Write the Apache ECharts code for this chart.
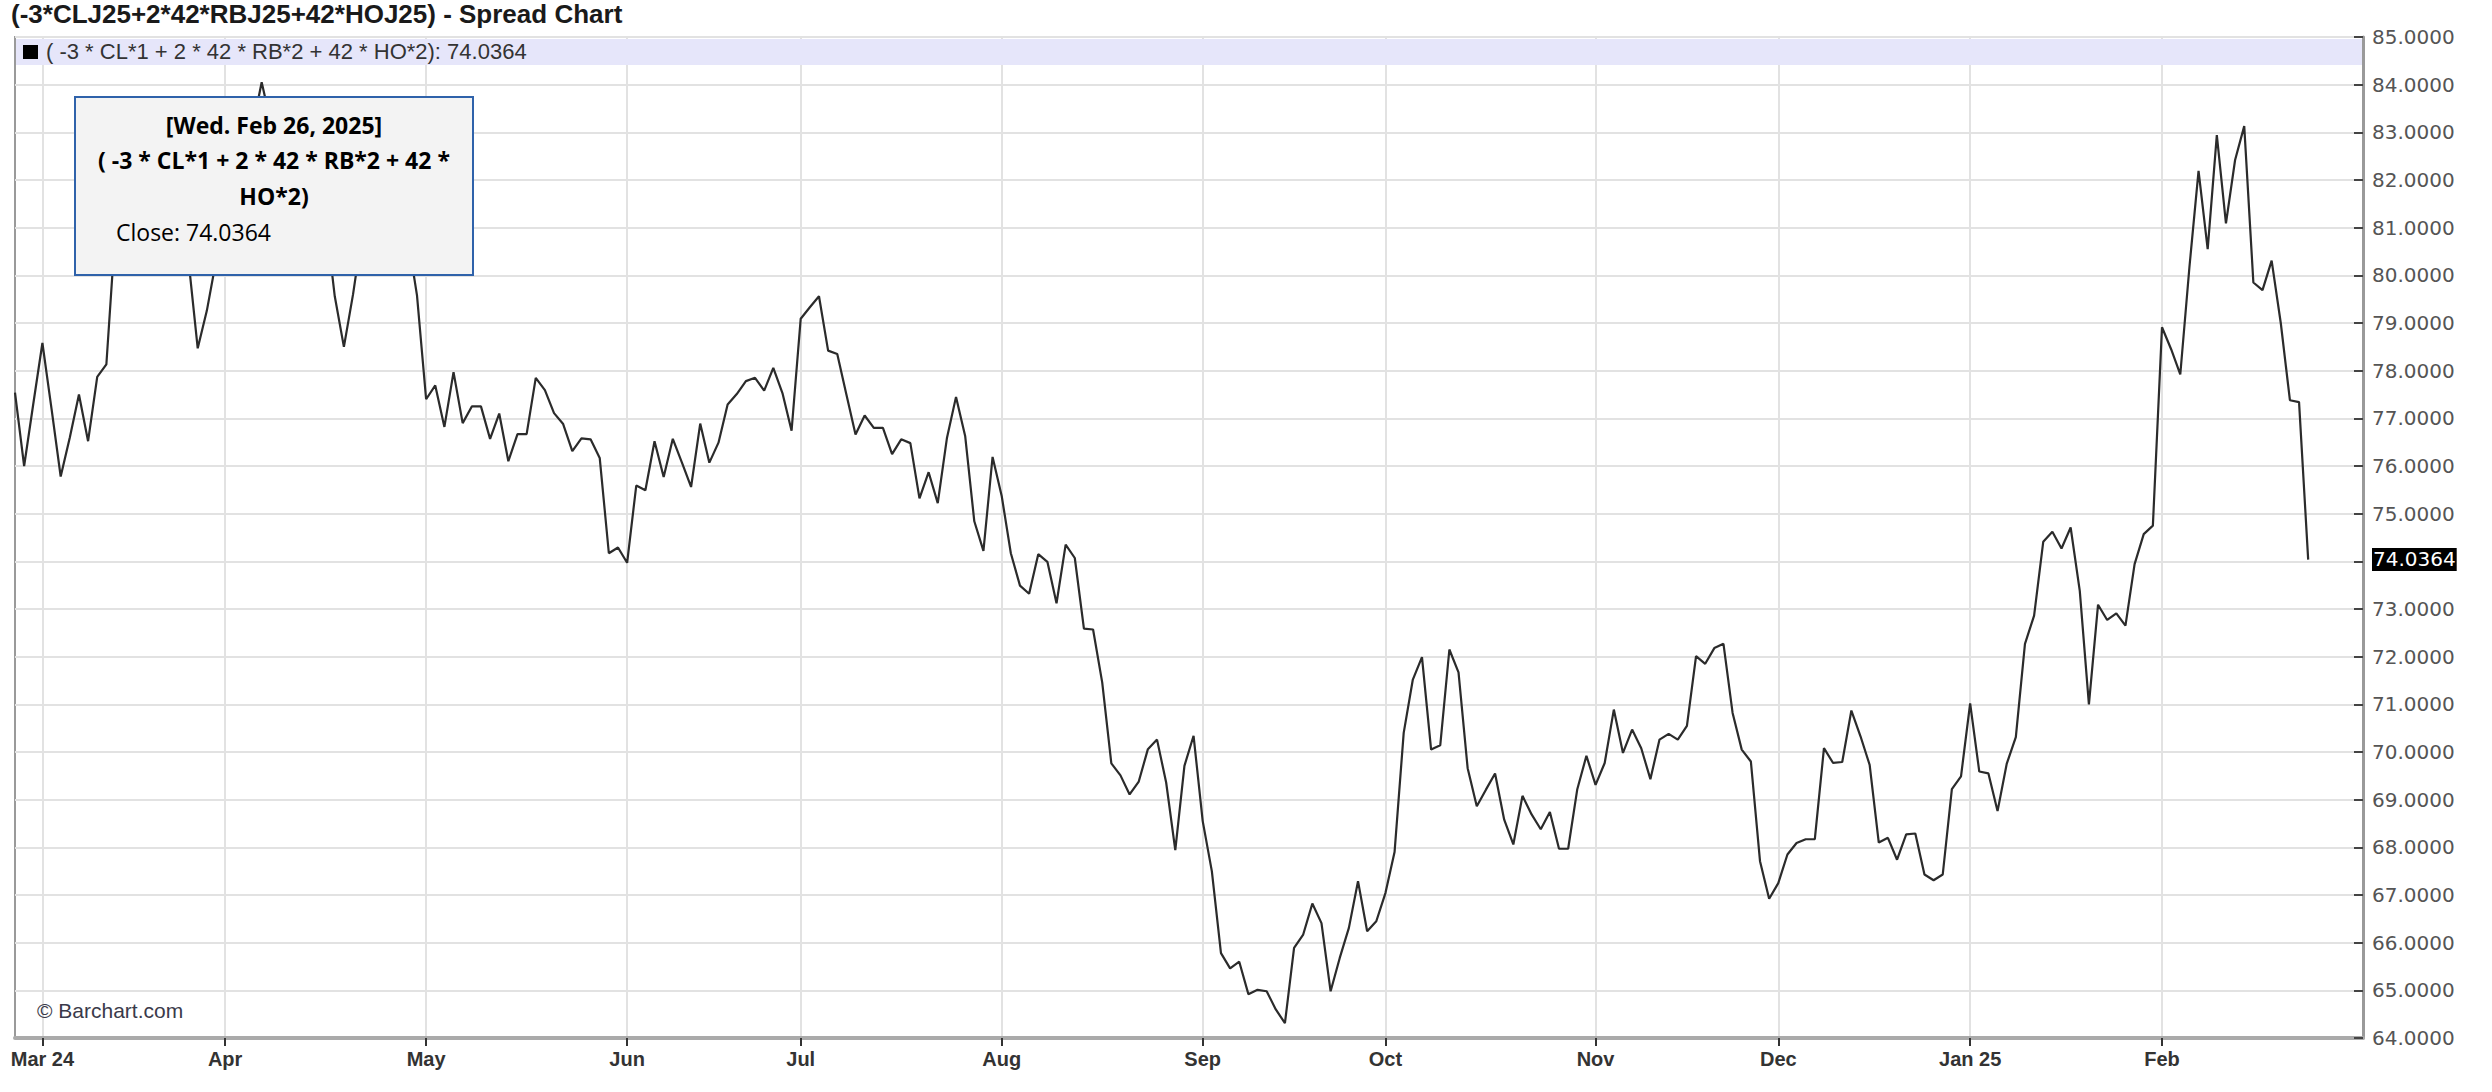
<!DOCTYPE html>
<html>
<head>
<meta charset="utf-8">
<style>
  html, body { margin: 0; padding: 0; background: #fff; }
  #chart { width: 2492px; height: 1092px; }
</style>
<script src="https://cdn.jsdelivr.net/npm/echarts@6/dist/echarts.min.js"></script>
</head>
<body>
<div id="chart"></div>
<script>
// ---------- DATA ----------
const chartTitle = '(-3*CLJ25+2*42*RBJ25+42*HOJ25) - Spread Chart';
const seriesName = '( -3 * CL*1 + 2 * 42 * RB*2 + 42 * HO*2)';

// trading-day calendar: first date, last axis date and exchange holidays (no bar)
const firstDate = '2024-02-27';
const lastAxisDate = '2025-03-06';
const holidays = ['2024-03-29','2024-05-27','2024-06-19','2024-07-04','2024-09-02',
                  '2024-11-28','2024-12-25','2025-01-01','2025-01-20','2025-02-17'];

// month tick positions and labels
const tickDates  = ['2024-03-01','2024-04-01','2024-05-01','2024-06-03','2024-07-01','2024-08-01',
                    '2024-09-03','2024-10-01','2024-11-01','2024-12-02','2025-01-02','2025-02-03'];
const tickLabels = ['Mar 24','Apr','May','Jun','Jul','Aug','Sep','Oct','Nov','Dec','Jan 25','Feb'];

// daily closes, Feb 27 2024 -> Feb 26 2025
const closes = [
  // Feb 2024
  77.54, 76.00, 77.30,
  // Mar 2024
  78.58, 77.20, 75.78, 76.60, 77.50, 76.52, 77.87, 78.13, 81.00, 81.90,
  81.50, 82.40, 83.00, 82.60, 83.30, 82.10, 80.30, 78.47, 79.26, 80.30,
  // Apr 2024
  81.40, 82.50, 82.00, 83.10, 84.05, 83.20, 82.60, 83.00, 82.20, 81.50,
  82.00, 81.20, 79.56, 78.50, 79.60, 80.90, 81.70, 81.20, 82.10, 81.50,
  80.80, 79.58,
  // May 2024
  77.40, 77.69, 76.82, 77.97, 76.90, 77.25, 77.25, 76.57, 77.10, 76.10,
  76.67, 76.67, 77.85, 77.59, 77.11, 76.88, 76.31, 76.58, 76.56, 76.17,
  74.17, 74.29,
  // Jun 2024
  73.97, 75.59, 75.49, 76.52, 75.77, 76.57, 76.07, 75.56, 76.89, 76.07,
  76.49, 77.29, 77.51, 77.78, 77.85, 77.58, 78.06, 77.53, 76.74,
  // Jul 2024
  79.09, 79.33, 79.56, 78.42, 78.35, 77.50, 76.66, 77.06, 76.80, 76.80,
  76.25, 76.56, 76.48, 75.32, 75.87, 75.22, 76.58, 77.45, 76.63, 74.84,
  74.22, 76.19,
  // Aug 2024
  75.37, 74.17, 73.49, 73.32, 74.15, 73.99, 73.12, 74.35, 74.07, 72.59,
  72.57, 71.46, 69.76, 69.51, 69.11, 69.38, 70.06, 70.26, 69.36, 67.94,
  69.71, 70.34,
  // Sep 2024
  68.55, 67.50, 65.78, 65.46, 65.60, 64.92, 65.01, 64.98, 64.60, 64.31,
  65.89, 66.17, 66.82, 66.41, 64.98, 65.68, 66.31, 67.29, 66.24, 66.45,
  // Oct 2024
  67.04, 67.90, 70.40, 71.52, 71.99, 70.05, 70.14, 72.15, 71.67, 69.66,
  68.86, 69.21, 69.55, 68.58, 68.06, 69.08, 68.69, 68.38, 68.74, 67.97,
  67.97, 69.22, 69.92,
  // Nov 2024
  69.31, 69.77, 70.89, 69.98, 70.47, 70.08, 69.43, 70.26, 70.38, 70.26,
  70.55, 72.01, 71.85, 72.18, 72.27, 70.82, 70.05, 69.80, 67.71, 66.92,
  // Dec 2024
  67.25, 67.85, 68.09, 68.17, 68.17, 70.08, 69.77, 69.79, 70.87, 70.33,
  69.73, 68.10, 68.20, 67.74, 68.27, 68.29, 67.43, 67.31, 67.43, 69.22,
  69.49,
  // Jan 2025
  71.02, 69.59, 69.55, 68.76, 69.75, 70.31, 72.27, 72.86, 74.41, 74.62,
  74.27, 74.71, 73.38, 71.00, 73.09, 72.77, 72.91, 72.65, 73.94, 74.57,
  74.75,
  // Feb 2025
  78.91, 78.45, 77.92, 80.17, 82.19, 80.55, 82.94, 81.09, 82.42, 83.13,
  79.85, 79.69, 80.31, 79.00, 77.38, 77.34, 74.0364
];

const tooltipDate = '[Wed. Feb 26, 2025]';

// ---------- BUILD CATEGORIES ----------
function buildDates(from, to, skip) {
  const out = [];
  const skipSet = new Set(skip);
  const d = new Date(from + 'T00:00:00Z');
  const end = new Date(to + 'T00:00:00Z');
  while (d <= end) {
    const wd = d.getUTCDay();
    const s = d.toISOString().slice(0, 10);
    if (wd !== 0 && wd !== 6 && !skipSet.has(s)) out.push(s);
    d.setUTCDate(d.getUTCDate() + 1);
  }
  return out;
}
const categories = buildDates(firstDate, lastAxisDate, holidays);
const tickSet = new Set(tickDates);
const labelOf = {};
tickDates.forEach((d, i) => { labelOf[d] = tickLabels[i]; });
const isTick = (idx, val) => tickSet.has(val);
const lastValue = closes[closes.length - 1];

// ---------- LAYOUT ----------
const G = { left: 15, right: 129, top: 37, bottom: 54 };
const plotRight = 2492 - G.right;
const TZ = 100;

const chart = echarts.init(document.getElementById('chart'), null, { renderer: 'svg' });

chart.setOption({
  animation: false,
  backgroundColor: '#ffffff',
  grid: {
    left: G.left, right: G.right, top: G.top, bottom: G.bottom,
    show: true, borderColor: '#9a9a9a', borderWidth: 2, backgroundColor: 'transparent'
  },
  xAxis: {
    type: 'category',
    data: categories,
    boundaryGap: false,
    axisLine: { show: true, lineStyle: { color: '#aaaaaa', width: 4 } },
    axisTick: { show: true, interval: isTick, length: 8, lineStyle: { color: '#333', width: 2 } },
    axisLabel: {
      show: true, interval: isTick, margin: 11,
      formatter: v => labelOf[v] || '',
      fontFamily: 'Liberation Sans, Arial, sans-serif', fontWeight: 'bold', fontSize: 20, color: '#333'
    },
    splitLine: { show: true, interval: isTick, lineStyle: { color: '#e2e2e2', width: 2 } }
  },
  yAxis: {
    type: 'value',
    position: 'right',
    min: 64, max: 85, interval: 1,
    axisLine: { show: true, lineStyle: { color: '#9a9a9a', width: 3 } },
    axisTick: { show: true, inside: true, length: 9, lineStyle: { color: '#444', width: 2 } },
    axisLabel: {
      margin: 9, formatter: v => v.toFixed(4),
      fontFamily: 'DejaVu Sans, sans-serif', fontSize: 20, color: '#555'
    },
    splitLine: { show: true, lineStyle: { color: '#e2e2e2', width: 2 } }
  },
  series: [{
    name: seriesName,
    type: 'line',
    data: closes,
    symbol: 'none',
    z: 5,
    lineStyle: { color: '#2b2b2b', width: 2.2 },
    markLine: {
      silent: true,
      symbol: ['none', 'none'],
      lineStyle: { color: 'transparent', width: 0 },
      data: [{ yAxis: lastValue }],
      label: {
        show: true, position: 'end', distance: 9,
        formatter: () => lastValue.toFixed(4),
        backgroundColor: '#000', color: '#fff', padding: [2, 1, 1, 1],
        fontFamily: 'DejaVu Sans, sans-serif', fontSize: 20
      }
    }
  }],
  graphic: [
    // title
    { type: 'text', left: 11, top: 1, z: TZ,
      style: { text: chartTitle, font: 'bold 26px "Liberation Sans", Arial, sans-serif', fill: '#1a1a1a' } },
    // legend band
    { type: 'rect', z: 1, shape: { x: G.left + 1, y: G.top + 2, width: plotRight - G.left - 2, height: 26 },
      style: { fill: '#e6e6fa' } },
    { type: 'rect', z: TZ, shape: { x: 23, y: 45, width: 15, height: 14 }, style: { fill: '#000' } },
    { type: 'text', left: 46, top: 40, z: TZ,
      style: { text: seriesName + ': ' + lastValue.toFixed(4),
               font: '22px "Liberation Sans", Arial, sans-serif', fill: '#333' } },
    // tooltip box
    { type: 'rect', z: TZ, shape: { x: 75, y: 97, width: 398, height: 178 },
      style: { fill: '#f3f3f3', stroke: '#2f62aa', lineWidth: 2 } },
    { type: 'text', z: TZ + 1, style: { x: 274, y: 125, text: tooltipDate, textAlign: 'center', textVerticalAlign: 'middle',
        font: 'bold 23px "Open Sans", sans-serif', fill: '#000' } },
    { type: 'text', z: TZ + 1, style: { x: 274, y: 160, text: '( -3 * CL*1 + 2 * 42 * RB*2 + 42 *', textAlign: 'center', textVerticalAlign: 'middle',
        font: 'bold 23px "Open Sans", sans-serif', fill: '#000' } },
    { type: 'text', z: TZ + 1, style: { x: 274, y: 196, text: 'HO*2)', textAlign: 'center', textVerticalAlign: 'middle',
        font: 'bold 23px "Open Sans", sans-serif', fill: '#000' } },
    { type: 'text', z: TZ + 1, style: { x: 116, y: 232, text: 'Close: ' + lastValue.toFixed(4), textAlign: 'left', textVerticalAlign: 'middle',
        font: '23px "Open Sans", sans-serif', fill: '#000' } },
    // copyright
    { type: 'text', left: 37, top: 1000, z: TZ,
      style: { text: '© Barchart.com', font: '21px "Liberation Sans", Arial, sans-serif', fill: '#3a3a4a' } }
  ]
});
</script>
</body>
</html>
